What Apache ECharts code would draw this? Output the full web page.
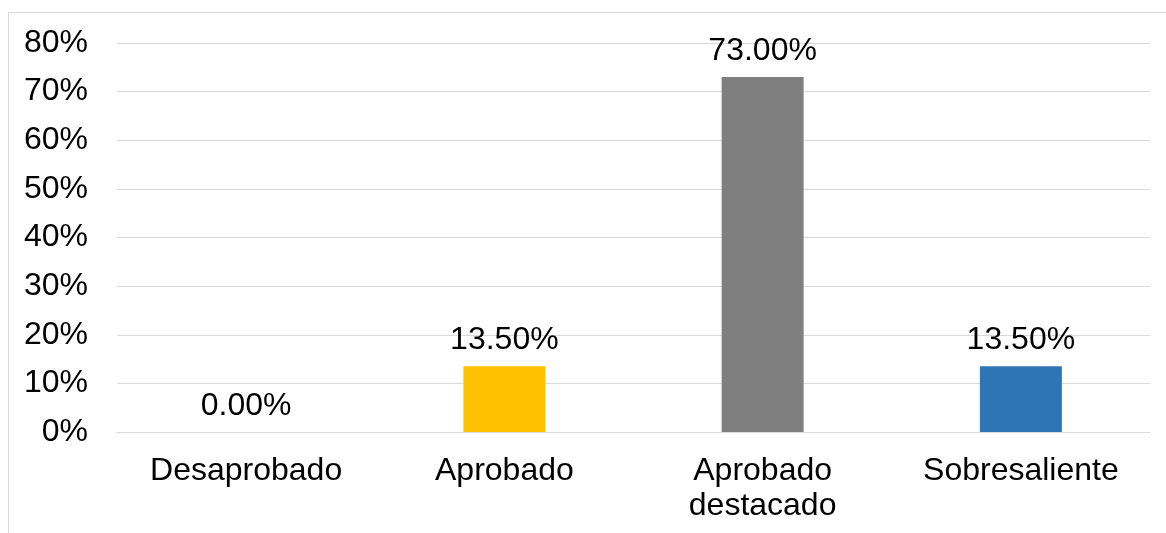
<!DOCTYPE html>
<html><head><meta charset="utf-8">
<script src="https://cdn.jsdelivr.net/npm/echarts@6/dist/echarts.min.js"></script>
<style>html,body{margin:0;padding:0;background:#fff}#c{width:1166px;height:533px}</style>
</head><body><div id="c"></div>
<script>
const categories = ['Desaprobado', 'Aprobado', 'Aprobado\ndestacado', 'Sobresaliente'];
const values = [0.00, 13.50, 73.00, 13.50];
const barColors = ['#ED7D31', '#FFC000', '#7F7F7F', '#2E75B6'];
const yTicks = [0, 10, 20, 30, 40, 50, 60, 70, 80];

const FONT = '"Liberation Sans", Arial, sans-serif';
const chart = echarts.init(document.getElementById('c'), null, {renderer: 'canvas'});
chart.setOption({
  animation: false,
  backgroundColor: '#fff',
  graphic: [{
    type: 'rect', position: [8.5, 12.5], silent: true,
    shape: {x: 0, y: 0, width: 1300, height: 700},
    style: {fill: 'none', stroke: '#D9D9D9', lineWidth: 1}
  }],
  grid: {left: 117, right: 16, top: 43, bottom: 101, containLabel: false},
  xAxis: {
    type: 'category', data: categories,
    axisLine: {show: true, lineStyle: {color: '#D9D9D9', width: 1}},
    axisTick: {show: false},
    axisLabel: {color: '#000', fontFamily: FONT, fontSize: 32, lineHeight: 35, margin: 22, interval: 0}
  },
  yAxis: {
    type: 'value', min: yTicks[0], max: yTicks[yTicks.length - 1], interval: 10,
    axisLine: {show: false}, axisTick: {show: false},
    splitLine: {lineStyle: {color: '#D9D9D9', width: 1}},
    axisLabel: {color: '#000', fontFamily: FONT, fontSize: 32, margin: 29, formatter: v => v + '%'}
  },
  series: [{
    type: 'bar', barWidth: 82,
    data: values.map((v, i) => ({value: v, itemStyle: {color: barColors[i]}})),
    label: {show: true, position: 'top', distance: 10, color: '#000', fontFamily: FONT, fontSize: 32,
      formatter: p => p.value.toFixed(2) + '%'}
  }]
});
</script></body></html>
